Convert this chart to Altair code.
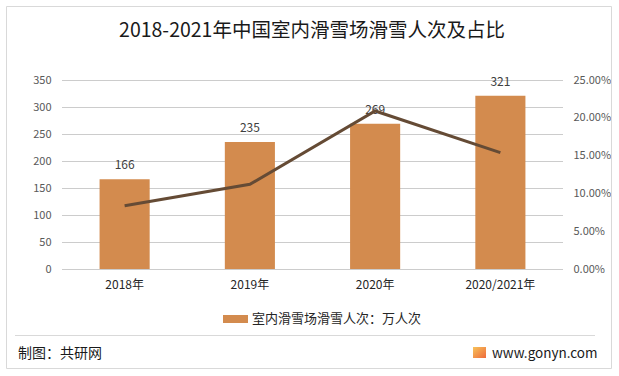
import altair as alt
import pandas as pd

# ---- data ----
years = ["2018年", "2019年", "2020年", "2020/2021年"]
visits = [166, 235, 269, 321]          # 室内滑雪场滑雪人次（万人次）
share = [0.0837, 0.112, 0.209, 0.154]  # 占比
series_name = "室内滑雪场滑雪人次：万人次"
title_text = "2018-2021年中国室内滑雪场滑雪人次及占比"
footer_left = "制图：共研网"
footer_right = "www.gonyn.com"
left_ticks = [0, 50, 100, 150, 200, 250, 300, 350]
right_ticks = [0.0, 0.05, 0.10, 0.15, 0.20, 0.25]

FONT = "Noto Sans CJK SC"
LEFT_DOMAIN = [0, 350]

df = pd.DataFrame({
    "year": years,
    "visits": visits,
    "share": share,
    "series": [series_name] * len(years),
})
grid_df = pd.DataFrame({"tick": left_ticks})
one = pd.DataFrame({"k": [0]})

x_enc = alt.X(
    "year:N", sort=years,
    scale=alt.Scale(paddingInner=0.6, paddingOuter=0.3),
    axis=alt.Axis(title=None, labelAngle=0, ticks=False, domain=False, grid=False,
                  labelFontSize=12, labelColor="#262626", labelFont=FONT, labelPadding=10),
)

base = alt.Chart(df)

grid = alt.Chart(grid_df).mark_rule(color="#CCCCCC", strokeWidth=1, yOffset=0.5).encode(
    y=alt.Y("tick:Q", scale=alt.Scale(domain=LEFT_DOMAIN), axis=None),
    x=alt.value(0), x2=alt.value(501),
)

bars = base.mark_bar(color="#D38B4E").encode(
    x=x_enc,
    y=alt.Y("visits:Q", scale=alt.Scale(domain=LEFT_DOMAIN),
            axis=alt.Axis(title=None, orient="left", values=left_ticks, ticks=False,
                          domain=False, grid=False, labelOverlap=False,
                          labelColor="#595959", labelFontSize=11, labelFont=FONT,
                          labelPadding=11)),
    color=alt.Color("series:N", scale=alt.Scale(range=["#D38B4E"]),
                    legend=alt.Legend(title=None, orient="none", legendX=161, legendY=226.5,
                                      symbolType="M-1,-0.32H1V0.32H-1Z", symbolSize=625,
                                      symbolStrokeWidth=0, labelFontSize=13,
                                      labelColor="#262626", labelFont=FONT, labelLimit=400,
                                      labelOffset=4, padding=0)),
)

labels = base.mark_text(dy=-14, fontSize=12, color="#404040", font=FONT).encode(
    x=x_enc,
    y=alt.Y("visits:Q", scale=alt.Scale(domain=LEFT_DOMAIN), axis=None),
    text="visits:Q",
)

line = base.mark_line(color="#654B35", strokeWidth=3).encode(
    x=x_enc,
    y=alt.Y("share:Q", scale=alt.Scale(domain=[0, 0.25]),
            axis=alt.Axis(title=None, orient="right", format=".2%", values=right_ticks,
                          grid=False, ticks=False, domain=False, labelOverlap=False,
                          labelColor="#595959", labelFontSize=11, labelFont=FONT,
                          labelPadding=10)),
)

frame = alt.Chart(one).mark_rect(fillOpacity=0, stroke="#D9D9D9", strokeWidth=1).encode(
    x=alt.value(-55.5), x2=alt.value(549.5), y=alt.value(-73.5), y2=alt.value(288.5)
)
sep = alt.Chart(one).mark_rule(color="#D9D9D9", strokeWidth=1).encode(
    x=alt.value(-47), x2=alt.value(533), y=alt.value(255.5)
)
title = alt.Chart(one).mark_text(text=title_text, fontSize=19.5, font=FONT, color="#1A1A1A").encode(
    x=alt.value(250), y=alt.value(-49)
)
foot_l = alt.Chart(one).mark_text(text=footer_left, fontSize=14, font=FONT, color="#1A1A1A",
                                  align="left").encode(x=alt.value(-44), y=alt.value(274))
logo = alt.Chart(one).mark_rect(
    color=alt.Gradient(gradient="linear", x1=0, y1=0, x2=1, y2=1,
                       stops=[alt.GradientStop(offset=0, color="#F7C35A"),
                              alt.GradientStop(offset=1, color="#EE6A3C")])
).encode(x=alt.value(411), x2=alt.value(424), y=alt.value(267), y2=alt.value(278))
foot_r = alt.Chart(one).mark_text(text=footer_right, fontSize=13.5, font=FONT, color="#1A1A1A",
                                  align="left").encode(x=alt.value(430), y=alt.value(274))

chart = alt.layer(frame, sep, title, foot_l, logo, foot_r, grid, bars, labels, line).resolve_scale(
    y="independent"
).properties(
    width=501, height=189,
    background="#FFFFFF",
    autosize=alt.AutoSizeParams(type="none"),
    padding={"left": 62, "top": 80, "right": 56, "bottom": 107},
).configure_view(stroke=None)

chart.save("out.html", embed_options={"renderer": "svg", "actions": False})
